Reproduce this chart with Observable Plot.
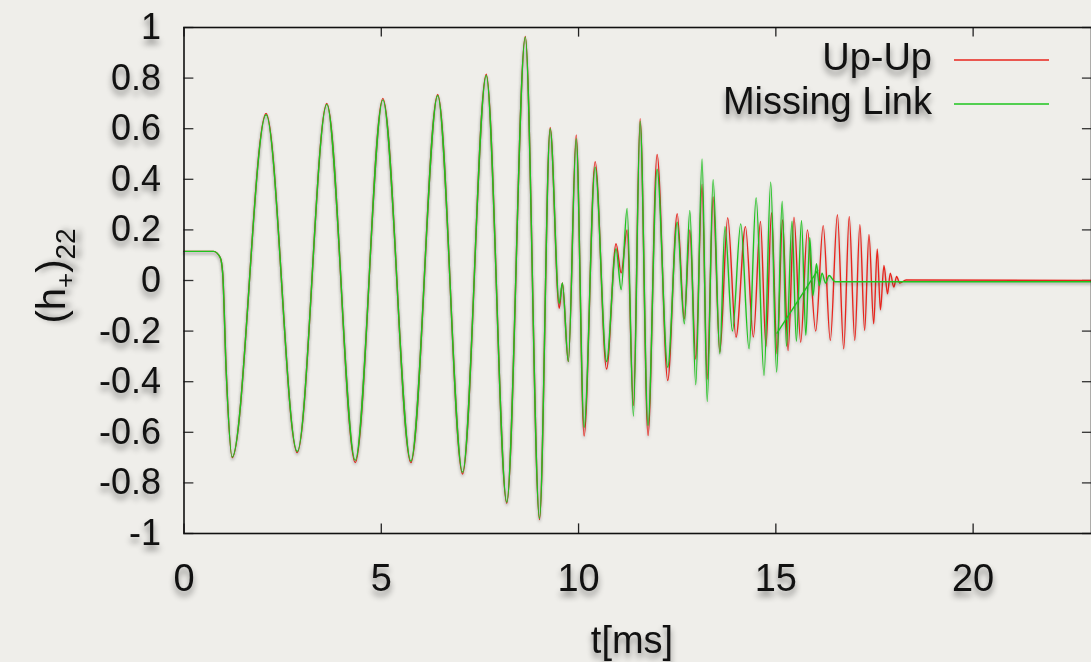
<!DOCTYPE html>
<html><head><meta charset="utf-8">
<script src="https://cdn.jsdelivr.net/npm/d3@7"></script>
<script src="https://cdn.jsdelivr.net/npm/@observablehq/plot@0.6"></script>
<style>
html,body{margin:0;padding:0;background:#efeeea;}
#chart{position:relative;width:1091px;height:662px;overflow:hidden;}
</style></head><body><div id="chart"></div>
<script>
// ---- data ----
const xTicks = [0, 5, 10, 15, 20];
const xTickLabels = ["0", "5", "10", "15", "20"];
const yTicks = [-1, -0.8, -0.6, -0.4, -0.2, 0, 0.2, 0.4, 0.6, 0.8, 1];
const yTickLabels = ["-1", "-0.8", "-0.6", "-0.4", "-0.2", "0", "0.2", "0.4", "0.6", "0.8", "1"];
const seriesNames = ["Up-Up", "Missing Link"];
const seriesColors = ["#e8251d", "#1ec41e"];

// Up-Up: turning points of the waveform, t [ms] and (h+)22
const upUpT = [0, 0.75, 0.92, 0.98, 1.07, 1.22, 2.08, 2.87, 3.62, 4.34, 5.04, 5.75, 6.43, 7.06, 7.66, 8.18, 8.65, 9.01, 9.28, 9.51, 9.59, 9.74, 9.94, 10.14, 10.42, 10.71, 10.95, 11.08, 11.23, 11.39, 11.56, 11.76, 11.99, 12.26, 12.50, 12.68, 12.82, 12.97, 13.13, 13.26, 13.41, 13.58, 13.78, 13.99, 14.23, 14.43, 14.61, 14.75, 14.89, 15.03, 15.17, 15.31, 15.46, 15.63, 15.80, 16.01, 16.20, 16.38, 16.56, 16.72, 16.86, 17.00, 17.13, 17.25, 17.36, 17.48, 17.57, 17.65, 17.74, 17.83, 17.90, 17.99, 18.06, 18.14, 18.30, 23];
const upUpV = [0.115, 0.115, 0.09, 0.03, -0.36, -0.70, 0.66, -0.68, 0.70, -0.72, 0.72, -0.72, 0.735, -0.765, 0.815, -0.88, 0.965, -0.945, 0.605, -0.11, -0.01, -0.32, 0.575, -0.615, 0.47, -0.35, 0.145, 0.03, 0.20, -0.494, 0.64, -0.613, 0.498, -0.395, 0.264, -0.151, 0.20, -0.31, 0.38, -0.39, 0.33, -0.283, 0.248, -0.224, 0.213, -0.224, 0.233, -0.26, 0.268, -0.29, 0.24, -0.277, 0.25, -0.244, 0.20, -0.20, 0.217, -0.237, 0.26, -0.27, 0.253, -0.237, 0.221, -0.198, 0.182, -0.171, 0.125, -0.116, 0.059, -0.053, 0.029, -0.026, 0.016, -0.01, 0.002, 0];

// Missing Link
const missingT = [0, 0.75, 0.92, 0.98, 1.07, 1.22, 2.08, 2.87, 3.62, 4.34, 5.04, 5.75, 6.43, 7.06, 7.66, 8.18, 8.65, 9.01, 9.28, 9.51, 9.59, 9.74, 9.94, 10.14, 10.42, 10.71, 10.95, 11.08, 11.23, 11.39, 11.56, 11.76, 11.99, 12.26, 12.50, 12.68, 12.82, 12.97, 13.13, 13.26, 13.41, 13.58, 13.71, 13.90, 14.11, 14.32, 14.50, 14.70, 14.87, 15.02, 15.16, 15.27, 15.41, 15.52, 15.65, 15.76, 15.86, 15.94, 16.03, 16.10, 16.17, 16.26, 16.35, 16.50, 23];
const missingV = [0.115, 0.115, 0.09, 0.03, -0.36, -0.698, 0.655, -0.676, 0.696, -0.711, 0.714, -0.714, 0.731, -0.758, 0.81, -0.876, 0.962, -0.94, 0.60, -0.09, -0.01, -0.32, 0.56, -0.58, 0.448, -0.32, 0.126, -0.036, 0.285, -0.536, 0.63, -0.573, 0.44, -0.343, 0.23, -0.171, 0.277, -0.412, 0.48, -0.478, 0.398, -0.29, 0.213, -0.20, 0.224, -0.27, 0.327, -0.375, 0.389, -0.362, 0.313, -0.26, 0.234, -0.24, 0.237, -0.217, 0.169, -0.06, 0.066, -0.02, 0.029, -0.01, 0.02, -0.005, -0.005];
// straight join segment visible in the Missing Link curve
const missingJoinT = [15.03, 16.06];
const missingJoinV = [-0.208, 0.04];

// ---- build tables ----
const upUp = upUpT.map((t, i) => ({t, v: upUpV[i]}));
const missing = missingT.map((t, i) => ({t, v: missingV[i]}));
const missingJoin = missingJoinT.map((t, i) => ({t, v: missingJoinV[i]}));
const labelOf = (ticks, labels) => d => labels[ticks.indexOf(d)];

const font = "'Liberation Sans', Arial, Helvetica, sans-serif";
const plot = Plot.plot({
  width: 1091, height: 662,
  marginLeft: 183.5, marginRight: 0, marginTop: 27, marginBottom: 129,
  x: {domain: [0, 23]},
  y: {domain: [-1, 1]},
  style: {background: "transparent", fontFamily: font, color: "#111"},
  marks: [
    Plot.ruleY(yTicks, {x1: 0, x2: 0.25, stroke: "#333", strokeWidth: 1.3}),
    Plot.ruleY(yTicks, {x1: 22.77, x2: 23, stroke: "#333", strokeWidth: 1.3}),
    Plot.ruleX(xTicks, {y1: -1, y2: -0.962, stroke: "#222", strokeWidth: 1.3}),
    Plot.ruleX(xTicks, {y1: 1, y2: 0.962, stroke: "#222", strokeWidth: 1.3}),
    Plot.line(upUp, {x: "t", y: "v", stroke: seriesColors[0], strokeWidth: 1.4, curve: "monotone-x"}),
    Plot.line(missing, {x: "t", y: "v", stroke: seriesColors[1], strokeWidth: 1.4, curve: "monotone-x"}),
    Plot.line(missingJoin, {x: "t", y: "v", stroke: seriesColors[1], strokeWidth: 1.4}),
    Plot.frame({stroke: "#111", strokeWidth: 1.6}),
    Plot.axisX(xTicks, {tickSize: 0, tickPadding: 31, fontSize: 38, label: null, tickFormat: labelOf(xTicks, xTickLabels)}),
    Plot.axisY(yTicks, {tickSize: 0, tickPadding: 23, fontSize: 36, label: null, tickFormat: labelOf(yTicks, yTickLabels)})
  ]
});

const svg = d3.select(plot);
svg.style("overflow", "visible");
const shadow = "drop-shadow(0px 5px 3px rgba(0,0,0,0.45))";
svg.selectAll('g[aria-label="x-axis tick label"], g[aria-label="y-axis tick label"]').style("filter", shadow);
svg.select('g[aria-label="frame"]').style("filter", "drop-shadow(0px 3px 2px rgba(0,0,0,0.3))");
svg.selectAll('g[aria-label="line"]').style("filter", "drop-shadow(0px 2px 1.5px rgba(0,0,0,0.25))");

// axis titles
svg.append("text").attr("x", 632).attr("y", 653).attr("text-anchor", "middle")
  .attr("font-family", font).attr("font-size", 38).attr("fill", "#111").style("filter", shadow)
  .text("t[ms]");
const yl = svg.append("text").attr("transform", "translate(65,276) rotate(-90)").attr("text-anchor", "middle")
  .attr("font-family", font).attr("font-size", 40).attr("fill", "#111").style("filter", shadow);
yl.append("tspan").text("(h");
yl.append("tspan").attr("font-size", 26).attr("dy", 9).text("+");
yl.append("tspan").attr("dy", -9).text(")");
yl.append("tspan").attr("font-size", 28).attr("dy", 10).text("22");

// legend
const legendY = [57, 101];
seriesNames.forEach((name, i) => {
  svg.append("text").attr("x", 932).attr("y", legendY[i]).attr("dy", "0.35em").attr("text-anchor", "end")
    .attr("font-family", font).attr("font-size", 38).attr("fill", "#111").style("filter", shadow)
    .text(name);
  svg.append("line").attr("x1", 954).attr("x2", 1049).attr("y1", legendY[i] + 3).attr("y2", legendY[i] + 3)
    .attr("stroke", seriesColors[i]).attr("stroke-width", 1.3);
});

document.getElementById("chart").appendChild(plot);
</script>
</body></html>
